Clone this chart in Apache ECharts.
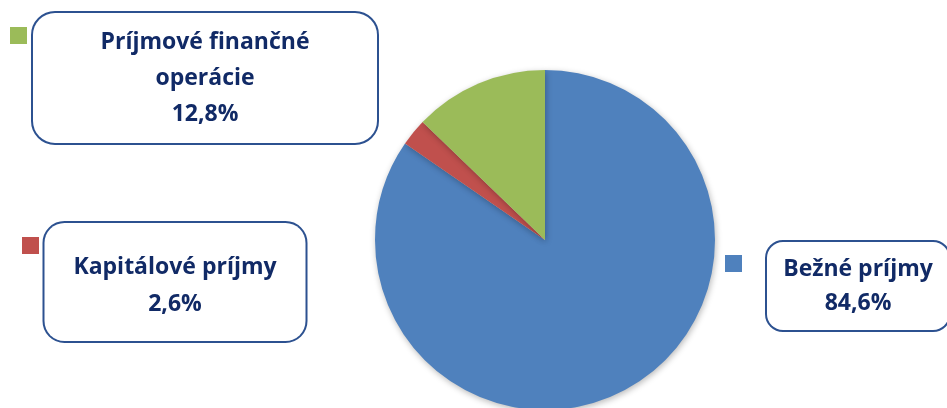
<!DOCTYPE html>
<html>
<head>
<meta charset="utf-8">
<script src="https://cdn.jsdelivr.net/npm/echarts@6/dist/echarts.min.js"></script>
<style>html,body{margin:0;padding:0;background:#fff}#c{width:947px;height:408px}</style>
</head>
<body>
<div id="c"></div>
<script>
var categories = ['Bežné príjmy', 'Kapitálové príjmy', 'Príjmové finančné operácie'];
var shares = [84.6, 2.6, 12.8];
var colors = ['#4f81bd', '#c0504d', '#9bbb59'];

// label box placement (style only): cx = box centre x, y = box top
var boxes = [
  { cx: 858, y: 242, width: 166, pad: [10, 8, 10, 8],   lh: 34, radius: 16 },
  { cx: 175, y: 223, width: 231, pad: [26, 15, 18, 15], lh: 37, radius: 20 },
  { cx: 205, y: 13,  width: 290, pad: [11, 27, 11, 27], lh: 36, radius: 22 }
];
var markers = [
  { left: 725, top: 255 },
  { left: 22,  top: 237 },
  { left: 10,  top: 27 }
];

// wrap long names after the second word
function wrapName(name) {
  var w = name.split(' ');
  if (w.length <= 2) return name;
  return w.slice(0, 2).join(' ') + '\n' + w.slice(2).join(' ');
}

var chart = echarts.init(document.getElementById('c'), null, { renderer: 'canvas' });

var data = categories.map(function (n, i) {
  var b = boxes[i];
  return {
    name: n,
    value: shares[i],
    itemStyle: { color: colors[i] },
    label: {
      width: b.width,
      overflow: 'none',
      lineHeight: b.lh,
      padding: b.pad,
      borderRadius: b.radius
    }
  };
});

var legends = categories.map(function (n, i) {
  return {
    data: [n],
    left: markers[i].left,
    top: markers[i].top,
    padding: 0,
    itemWidth: 17,
    itemHeight: 17,
    itemGap: 0,
    icon: 'rect',
    selectedMode: false,
    formatter: function () { return ''; },
    textStyle: { fontSize: 1 }
  };
});

chart.setOption({
  animation: false,
  backgroundColor: '#ffffff',
  legend: legends,
  series: [{
    type: 'pie',
    center: [545, 240],
    radius: 170,
    startAngle: 90,
    clockwise: true,
    avoidLabelOverlap: false,
    itemStyle: {
      borderWidth: 0,
      shadowBlur: 6,
      shadowColor: 'rgba(0,0,0,0.28)',
      shadowOffsetX: 1,
      shadowOffsetY: 2
    },
    emphasis: { disabled: true },
    labelLine: { show: false },
    label: {
      show: true,
      position: 'inside',
      rotate: 0,
      formatter: function (p) {
        return wrapName(p.name) + '\n' + p.value.toFixed(1).replace('.', ',') + '%';
      },
      color: '#112a66',
      fontFamily: '"Open Sans", "Liberation Sans", sans-serif',
      fontWeight: 'bold',
      fontSize: 23,
      align: 'center',
      backgroundColor: '#ffffff',
      borderColor: '#2c5190',
      borderWidth: 2
    },
    labelLayout: function (params) {
      var b = boxes[params.dataIndex];
      return {
        x: b.cx,
        y: b.y,
        align: 'center',
        verticalAlign: 'top',
        hideOverlap: false
      };
    },
    data: data
  }]
});
</script>
</body>
</html>
